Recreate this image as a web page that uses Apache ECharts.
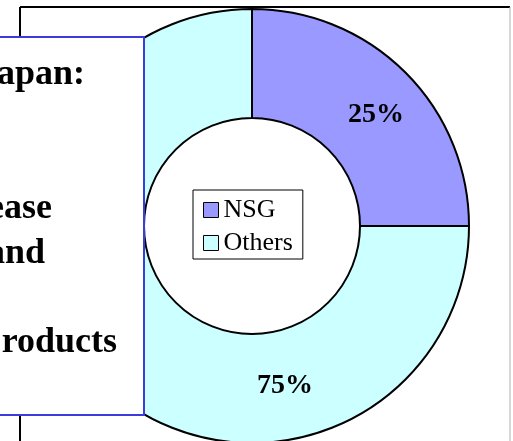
<!DOCTYPE html>
<html>
<head>
<meta charset="utf-8">
<script src="https://cdn.jsdelivr.net/npm/echarts@6/dist/echarts.min.js"></script>
<style>
html,body{margin:0;padding:0;background:#fff;}
#chart{width:513px;height:441px;}
</style>
</head>
<body>
<div id="chart"></div>
<script>
// ---- data ----
const categories = ['NSG', 'Others'];
const shareValues = [25, 75];
const sliceColors = ['#9999ff', '#ccffff'];
const boxLines = ['apan:', 'ease', 'and', 'roducts'];

// ---- layout (styles / positions kept separate from data) ----
const boxLineLayout = [
  { right: 85, baseline: 83 },
  { right: 52, baseline: 217 },
  { right: 45, baseline: 262 },
  { right: 117, baseline: 351 }
];
const serif = "'Liberation Serif','Times New Roman',serif";

const chart = echarts.init(document.getElementById('chart'), null, { renderer: 'canvas' });

const graphics = [
  // outer frame
  { type: 'line', z: 1, shape: { x1: 20, y1: 7, x2: 510, y2: 7 }, style: { stroke: '#000', lineWidth: 2 } },
  { type: 'line', z: 1, shape: { x1: 20, y1: 7, x2: 20, y2: 441 }, style: { stroke: '#000', lineWidth: 2 } },
  { type: 'line', z: 1, shape: { x1: 510, y1: 7, x2: 510, y2: 441 }, style: { stroke: '#b0b0b0', lineWidth: 1 } },
  // text box overlapping the donut
  { type: 'rect', z: 100, shape: { x: -10, y: 37, width: 154, height: 378 }, style: { fill: '#fff', stroke: '#3c3cdc', lineWidth: 2 } }
];
boxLines.forEach((t, i) => {
  graphics.push({
    type: 'text', z: 101,
    x: boxLineLayout[i].right, y: boxLineLayout[i].baseline - 8,
    style: { text: t, fill: '#000', font: 'bold 36px ' + serif, align: 'right', verticalAlign: 'middle' }
  });
});

const labelOffsets = [[7, 6], [150, 43]];

chart.setOption({
  animation: false,
  backgroundColor: '#fff',
  graphic: graphics,
  legend: {
    orient: 'vertical',
    left: 193, top: 190,
    data: categories,
    icon: 'rect',
    itemWidth: 15, itemHeight: 15,
    itemGap: 7,
    padding: [7, 10, 3, 10],
    backgroundColor: '#fff',
    borderColor: '#000', borderWidth: 1, borderRadius: 0,
    itemStyle: { borderColor: '#000', borderWidth: 1 },
    textStyle: { fontFamily: serif, fontSize: 26, lineHeight: 26, color: '#000' },
    selectedMode: false,
    z: 50
  },
  series: [{
    type: 'pie',
    center: [252, 226],
    radius: [108, 217],
    startAngle: 90,
    clockwise: true,
    avoidLabelOverlap: false,
    emphasis: { disabled: true },
    itemStyle: { borderColor: '#000', borderWidth: 2 },
    label: {
      show: true, position: 'inside',
      formatter: '{d}%',
      fontFamily: serif, fontSize: 28, fontWeight: 'bold', color: '#000'
    },
    labelLine: { show: false },
    data: categories.map((c, i) => ({
      name: c, value: shareValues[i],
      itemStyle: { color: sliceColors[i] },
      label: { offset: labelOffsets[i] }
    }))
  }]
});
</script>
</body>
</html>
